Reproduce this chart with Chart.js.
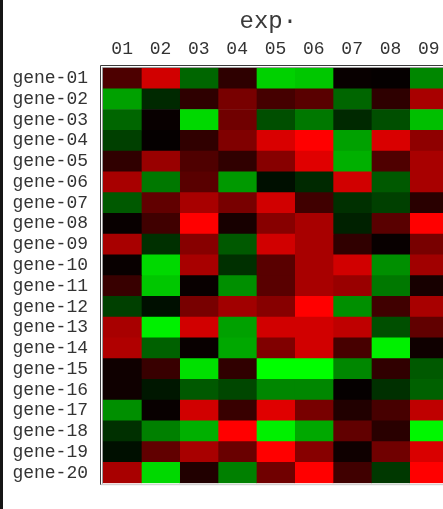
<!DOCTYPE html>
<html>
<head>
<meta charset="utf-8">
<script src="https://cdn.jsdelivr.net/npm/chart.js@4.4.1/dist/chart.umd.min.js"></script>
<style>
  html, body { margin: 0; padding: 0; background: #fff; overflow: hidden; }
  #wrap { position: relative; width: 450px; height: 509px; }
  #edge { position: absolute; left: 0; top: 0; width: 3px; height: 509px; background: #151515; }
</style>
</head>
<body>
<div id="wrap">
  <canvas id="heat" width="450" height="509"></canvas>
  <div id="edge"></div>
</div>
<script>
// Row and column labels
const genes = ['gene-01','gene-02','gene-03','gene-04','gene-05','gene-06','gene-07','gene-08','gene-09','gene-10',
               'gene-11','gene-12','gene-13','gene-14','gene-15','gene-16','gene-17','gene-18','gene-19','gene-20'];
const exps = ['01','02','03','04','05','06','07','08','09'];

// Expression values per experiment (gene-01 .. gene-20); > 0 red, < 0 green
const exp01 = [ 0.30,-0.63,-0.40,-0.25, 0.19, 0.66,-0.35, 0.03, 0.66, 0.03, 0.22,-0.25, 0.66, 0.69, 0.06, 0.06,-0.56,-0.19,-0.06, 0.66];
const exp02 = [ 0.82,-0.16, 0.03, 0.02, 0.60,-0.47, 0.38, 0.25,-0.19,-0.85,-0.78,-0.06,-0.94,-0.38, 0.22,-0.09, 0.03,-0.50, 0.38,-0.85];
const exp03 = [-0.40, 0.18,-0.85, 0.19, 0.31, 0.35, 0.66, 1.00, 0.53, 0.66, 0.03, 0.47, 0.82, 0.03,-0.88,-0.35, 0.82,-0.69, 0.66, 0.13];
const exp04 = [ 0.18, 0.47, 0.44, 0.50, 0.19,-0.60, 0.47, 0.09,-0.35,-0.19,-0.56, 0.63,-0.63,-0.66, 0.19,-0.28, 0.22, 1.00, 0.41,-0.50];
const exp05 = [-0.82, 0.27,-0.31, 0.85, 0.53,-0.06, 0.82, 0.53, 0.82, 0.35, 0.35, 0.53, 0.82, 0.50,-1.00,-0.53, 0.88,-0.94, 1.00, 0.44];
const exp06 = [-0.78, 0.35,-0.47, 1.00, 0.88,-0.16, 0.25, 0.66, 0.66, 0.66, 0.66, 1.00, 0.82, 0.82,-1.00,-0.53, 0.47,-0.66, 0.53, 1.00];
const exp07 = [ 0.03,-0.40,-0.16,-0.63,-0.69, 0.82,-0.19,-0.13, 0.19, 0.82, 0.60,-0.56, 0.75, 0.28,-0.53, 0.02, 0.13, 0.38, 0.06, 0.25];
const exp08 = [ 0.02, 0.18,-0.31, 0.85, 0.31,-0.35,-0.25, 0.35, 0.03,-0.56,-0.47, 0.25,-0.31,-0.94, 0.19,-0.19, 0.28, 0.16, 0.44,-0.22];
const exp09 = [-0.53, 0.66,-0.75, 0.56, 0.66, 0.66, 0.16, 1.00, 0.47, 0.63, 0.09, 0.66, 0.38, 0.06,-0.35,-0.38, 0.75,-0.97, 0.85, 1.00];
const columns = [exp01, exp02, exp03, exp04, exp05, exp06, exp07, exp08, exp09];

// green - black - red colour scale
function cellColor(v) {
  const c = Math.round(Math.min(1, Math.abs(v)) * 255);
  return v >= 0 ? `rgb(${c},0,0)` : `rgb(0,${c},0)`;
}

// Each experiment is one dataset of floating bars spanning its column
const datasets = columns.map((vals, j) => ({
  label: exps[j],
  data: vals.map(() => [j - 0.5, j + 0.5]),
  backgroundColor: vals.map(cellColor),
  borderWidth: 0,
  barPercentage: 1,
  categoryPercentage: 1,
  grouped: false
}));

// Sunken double frame round the plot area
const framePlugin = {
  id: 'frame',
  afterDraw(chart) {
    const { ctx, chartArea: a } = chart;
    ctx.save();
    ctx.lineWidth = 1;
    ctx.strokeStyle = '#3a3a3a';
    ctx.beginPath();
    ctx.moveTo(a.left - 2.5, a.bottom + 1.5);
    ctx.lineTo(a.left - 2.5, a.top - 2.5);
    ctx.lineTo(chart.width, a.top - 2.5);
    ctx.stroke();
    ctx.strokeStyle = '#9a9a9a';
    ctx.beginPath();
    ctx.moveTo(a.left - 0.5, a.bottom + 0.5);
    ctx.lineTo(a.left - 0.5, a.top - 0.5);
    ctx.lineTo(chart.width, a.top - 0.5);
    ctx.stroke();
    ctx.strokeStyle = '#c8c8c8';
    ctx.beginPath();
    ctx.moveTo(a.left - 2, a.bottom + 1.5);
    ctx.lineTo(chart.width, a.bottom + 1.5);
    ctx.stroke();
    ctx.restore();
  }
};

const monoFont = 'Liberation Mono, DejaVu Sans Mono, monospace';

new Chart(document.getElementById('heat'), {
  type: 'bar',
  data: { labels: genes, datasets },
  plugins: [framePlugin],
  options: {
    indexAxis: 'y',
    responsive: false,
    devicePixelRatio: 1,
    animation: false,
    layout: { padding: { left: 0, right: 2, top: 0, bottom: 3 } },
    plugins: { legend: { display: false }, tooltip: { enabled: false }, title: { display: false } },
    scales: {
      x: {
        type: 'linear',
        position: 'top',
        min: -0.5,
        max: exps.length - 0.5,
        grid: { display: false, drawTicks: false },
        border: { display: false },
        afterBuildTicks(scale) { scale.ticks = exps.map((_, i) => ({ value: i })); },
        afterFit(scale) { scale.height = 68; },
        ticks: {
          autoSkip: false,
          maxRotation: 0,
          padding: 8,
          color: '#333',
          font: { family: monoFont, size: 18 },
          callback: (v) => exps[v] ?? ''
        },
        title: {
          display: true,
          text: 'exp· ',
          color: '#3a3a3a',
          font: { family: monoFont, size: 24 },
          padding: { top: 7, bottom: 0 }
        }
      },
      y: {
        type: 'category',
        position: 'left',
        grid: { display: false, drawTicks: false },
        border: { display: false },
        afterFit(scale) { scale.width = 103; },
        ticks: {
          autoSkip: false,
          padding: 15,
          color: '#333',
          font: { family: monoFont, size: 18 }
        }
      }
    }
  }
});
</script>
</body>
</html>
